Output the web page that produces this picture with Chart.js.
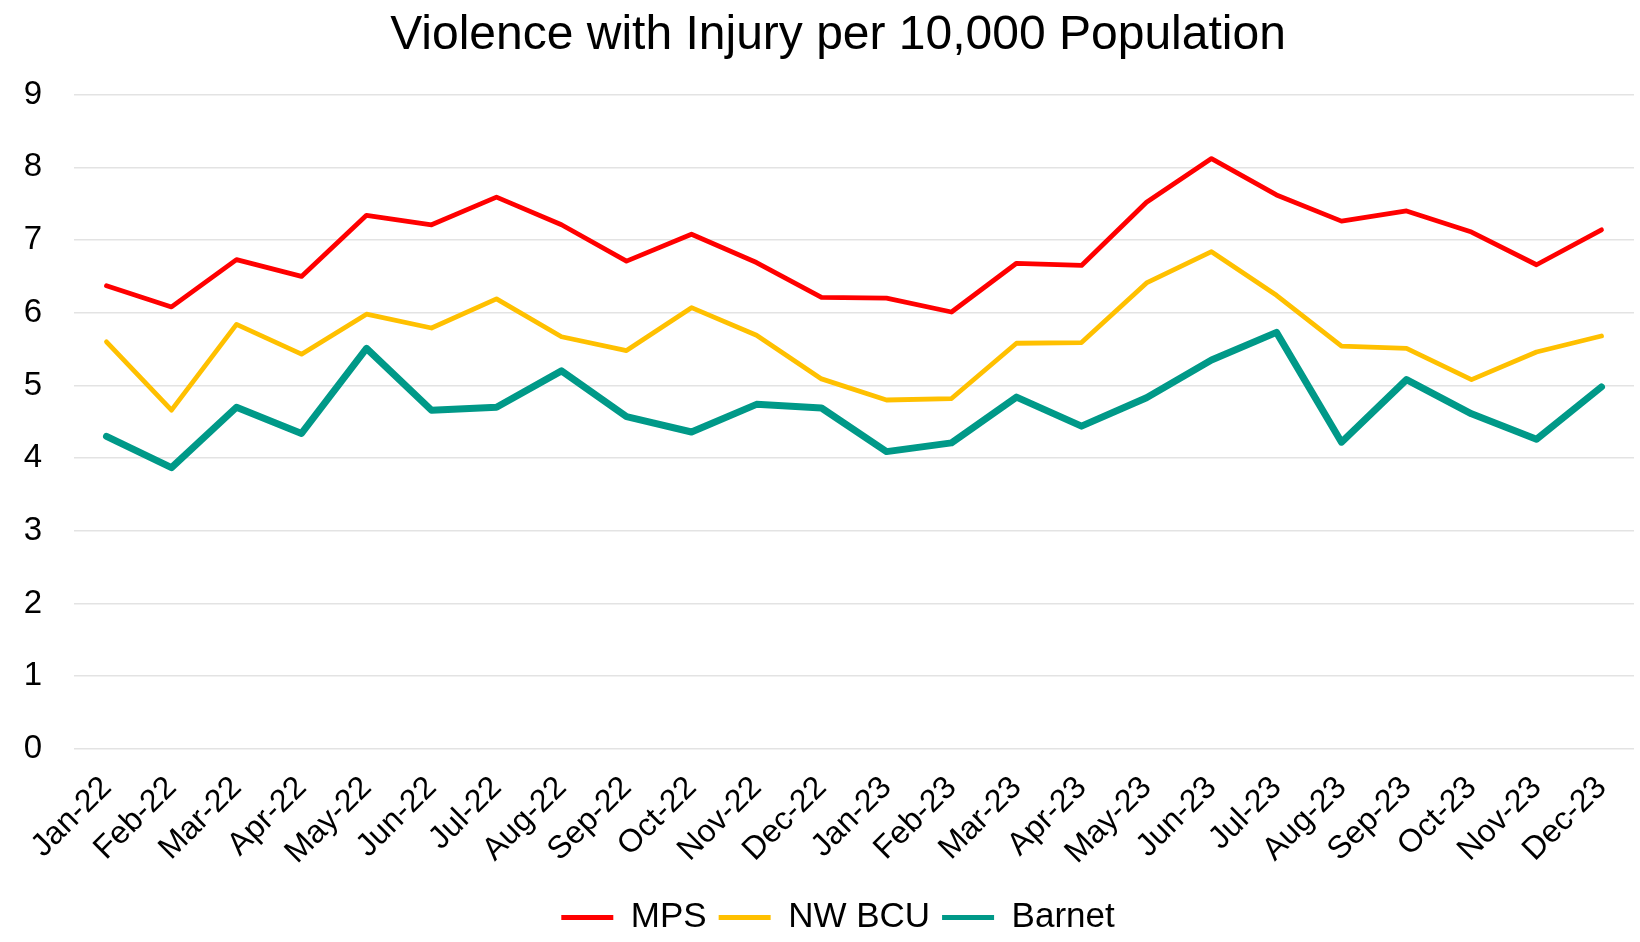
<!DOCTYPE html>
<html>
<head>
<meta charset="utf-8">
<title>Violence with Injury per 10,000 Population</title>
<script src="https://cdn.jsdelivr.net/npm/chart.js@4/dist/chart.umd.min.js"></script>
<style>
    html, body { margin: 0; padding: 0; background: #fff; }
    #wrap { width: 1640px; height: 942px; }
</style>
</head>
<body>
<div id="wrap"><canvas id="vwiChart"></canvas></div>
<script>
// 월별 라벨 (Jan-22 ~ Dec-23)
const months = ['Jan-22', 'Feb-22', 'Mar-22', 'Apr-22', 'May-22', 'Jun-22', 'Jul-22', 'Aug-22',
    'Sep-22', 'Oct-22', 'Nov-22', 'Dec-22', 'Jan-23', 'Feb-23', 'Mar-23', 'Apr-23', 'May-23',
    'Jun-23', 'Jul-23', 'Aug-23', 'Sep-23', 'Oct-23', 'Nov-23', 'Dec-23'];

// 시리즈 값
const mpsValues = [6.37, 6.08, 6.73, 6.50, 7.34, 7.21, 7.59, 7.21, 6.71, 7.08, 6.69, 6.21,
    6.20, 6.01, 6.68, 6.65, 7.52, 8.12, 7.62, 7.26, 7.40, 7.11, 6.66, 7.14];
const nwBcuValues = [5.60, 4.66, 5.84, 5.43, 5.98, 5.79, 6.19, 5.67, 5.48, 6.07, 5.69, 5.09,
    4.80, 4.82, 5.58, 5.59, 6.41, 6.84, 6.24, 5.54, 5.51, 5.08, 5.46, 5.68];
const barnetValues = [4.30, 3.87, 4.70, 4.34, 5.51, 4.66, 4.70, 5.20, 4.57, 4.36, 4.74, 4.69,
    4.09, 4.21, 4.84, 4.44, 4.83, 5.35, 5.73, 4.22, 5.08, 4.61, 4.26, 4.98];

// y축 눈금
const yTicks = [0, 1, 2, 3, 4, 5, 6, 7, 8, 9];

const FONT = '"Liberation Sans", Arial, sans-serif';

// 선 스타일 공통
const lineStyle = (color, width) => ({
    borderColor: color,
    backgroundColor: color,
    borderWidth: width,
    pointRadius: 0,
    pointHoverRadius: 0,
    tension: 0,
    fill: false,
    borderJoinStyle: 'round',
    borderCapStyle: 'round'
});

const chartData = {
    labels: months,
    datasets: [
        { label: 'MPS', data: mpsValues, ...lineStyle('#FF0000', 4.8) },
        { label: 'NW BCU', data: nwBcuValues, ...lineStyle('#FFC000', 4.8) },
        { label: 'Barnet', data: barnetValues, ...lineStyle('#009988', 7) }
    ]
};

// 제목/범례를 원본처럼 약간 오른쪽(+21px)으로, 범례는 조금 아래로 이동
const shiftBoxes = {
    id: 'shiftBoxes',
    afterLayout(chart) {
        if (chart.titleBlock) chart.titleBlock.left += 42;
        if (chart.legend) {
            chart.legend.left += 42;
            chart.legend.top += 3;
        }
    }
};

new Chart(document.getElementById('vwiChart'), {
    type: 'line',
    data: chartData,
    plugins: [shiftBoxes],
    options: {
        responsive: true,
        maintainAspectRatio: false,
        animation: false,
        layout: { padding: { left: 0, right: 6, top: 0, bottom: 0 } },
        scales: {
            x: {
                offset: true,
                grid: { display: false, drawTicks: false },
                border: { display: false },
                ticks: {
                    color: '#000',
                    font: { family: FONT, size: 32 },
                    minRotation: 45,
                    maxRotation: 45,
                    padding: 20,
                    autoSkip: false
                },
                afterFit: (scale) => {
                    scale.height = 136;
                    // 회전 라벨 때문에 생기는 좌우 여백 제거
                    scale.paddingLeft = 0;
                    scale.paddingRight = 0;
                }
            },
            y: {
                min: 0,
                max: 9,
                afterBuildTicks: (scale) => { scale.ticks = yTicks.map(v => ({ value: v })); },
                grid: { color: '#e3e3e3', lineWidth: 1.6, drawTicks: false },
                border: { display: false },
                ticks: {
                    color: '#000',
                    font: { family: FONT, size: 33 },
                    padding: 32
                },
                afterFit: (scale) => { scale.width = 74; }
            }
        },
        plugins: {
            title: {
                display: true,
                text: 'Violence with Injury per 10,000 Population',
                color: '#000',
                font: { family: FONT, size: 48, weight: 'normal' },
                padding: { top: 7, bottom: 30 }
            },
            legend: {
                position: 'bottom',
                labels: {
                    color: '#000',
                    font: { family: FONT, size: 35 },
                    boxWidth: 52,
                    boxHeight: 5,
                    padding: 12,
                    generateLabels: (chart) => chart.data.datasets.map((ds, i) => ({
                        text: ds.label,
                        fillStyle: ds.borderColor,
                        strokeStyle: ds.borderColor,
                        lineWidth: 0,
                        datasetIndex: i
                    }))
                }
            },
            tooltip: { enabled: false }
        }
    }
});
</script>
</body>
</html>
